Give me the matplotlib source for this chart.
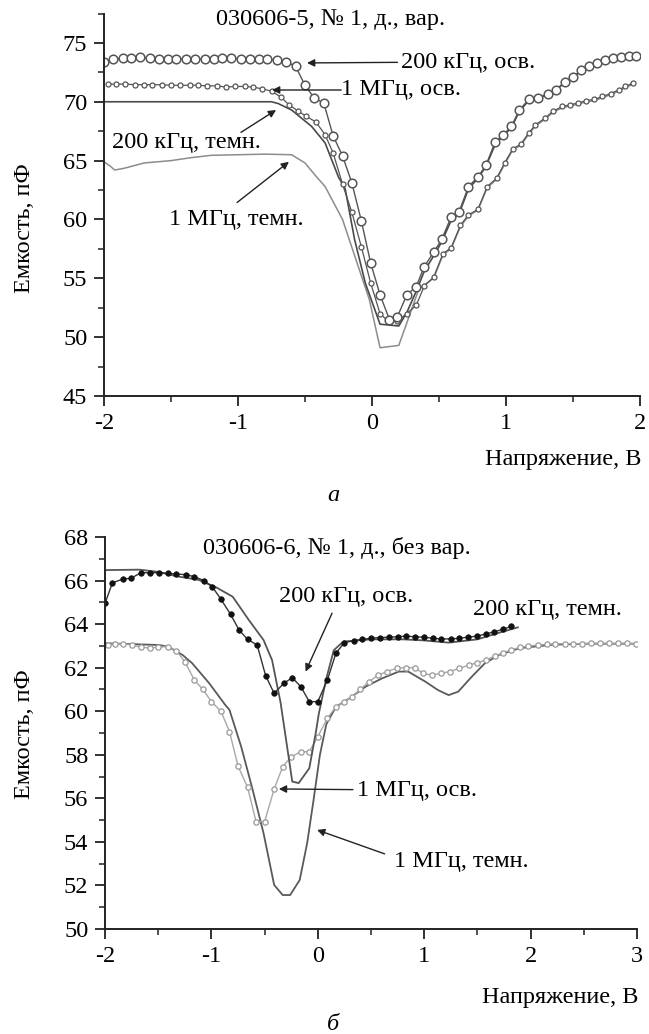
import matplotlib
matplotlib.use("Agg")
import matplotlib.pyplot as plt
from matplotlib.ticker import MultipleLocator

plt.rcParams['font.family'] = ['Liberation Serif', 'DejaVu Serif']
plt.rcParams['axes.unicode_minus'] = False

# ---------------- Panel (а): 030606-5 ----------------
a_osv200_x = [-2.00, -1.93, -1.86, -1.80, -1.73, -1.66, -1.59, -1.52, -1.46, -1.39,
              -1.32, -1.25, -1.18, -1.12, -1.05, -0.98, -0.91, -0.84, -0.78, -0.71,
              -0.64, -0.57, -0.50, -0.43, -0.36, -0.29, -0.22, -0.15, -0.08, -0.01,
              0.06, 0.13, 0.19, 0.26, 0.33, 0.39, 0.46, 0.52, 0.59, 0.65,
              0.72, 0.79, 0.85, 0.92, 0.98, 1.04, 1.10, 1.17, 1.24, 1.31,
              1.37, 1.44, 1.50, 1.56, 1.62, 1.68, 1.74, 1.80, 1.86, 1.92, 1.97]
a_osv200_y = [73.4, 73.6, 73.7, 73.75, 73.8, 73.7, 73.65, 73.65, 73.65, 73.65,
              73.65, 73.65, 73.6, 73.7, 73.7, 73.65, 73.6, 73.6, 73.6, 73.55,
              73.4, 73.0, 71.4, 70.3, 69.9, 67.1, 65.4, 63.1, 59.9, 56.3,
              53.6, 51.5, 51.75, 53.6, 54.3, 56.0, 57.2, 58.3, 60.2, 60.65,
              62.8, 63.6, 64.6, 66.6, 67.2, 67.9, 69.3, 70.2, 70.35, 70.65,
              71.0, 71.7, 72.1, 72.7, 73.0, 73.3, 73.55, 73.7, 73.8, 73.85, 73.85]

a_osv1M_x = [-1.97, -1.91, -1.84, -1.77, -1.70, -1.64, -1.57, -1.50, -1.43, -1.36,
             -1.30, -1.23, -1.16, -1.09, -1.02, -0.95, -0.89, -0.82, -0.75, -0.68,
             -0.62, -0.55, -0.49, -0.42, -0.35, -0.29, -0.22, -0.15, -0.08, -0.01,
             0.06, 0.13, 0.19, 0.26, 0.33, 0.39, 0.46, 0.53, 0.59, 0.66,
             0.72, 0.79, 0.86, 0.93, 0.99, 1.05, 1.11, 1.17, 1.22, 1.29,
             1.35, 1.42, 1.48, 1.54, 1.60, 1.66, 1.72, 1.78, 1.84, 1.89, 1.95]
a_osv1M_y = [71.5, 71.5, 71.5, 71.45, 71.45, 71.45, 71.45, 71.4, 71.4, 71.4,
             71.4, 71.35, 71.35, 71.25, 71.3, 71.3, 71.25, 71.1, 70.9, 70.4,
             69.75, 69.2, 68.75, 68.3, 67.2, 65.65, 63.0, 60.6, 57.7, 54.6,
             52.0, 51.25, 51.4, 52.0, 52.7, 54.35, 55.1, 57.1, 57.6, 59.5,
             60.4, 60.85, 62.8, 63.5, 64.8, 66.0, 66.4, 67.35, 68.05, 68.6,
             69.2, 69.6, 69.75, 69.9, 70.1, 70.2, 70.45, 70.7, 71.0, 71.3, 71.6]

a_dark200_x = [-2.00, -1.50, -1.00, -0.75, -0.70, -0.60, -0.45, -0.35, -0.25, -0.20,
               -0.13, -0.05, 0.06, 0.20, 0.26, 0.33, 0.39, 0.46, 0.52, 0.59,
               0.65, 0.72, 0.79, 0.85, 0.92, 0.98, 1.04, 1.10, 1.17, 1.24,
               1.31, 1.37, 1.44, 1.50, 1.56, 1.62, 1.68, 1.74, 1.80, 1.86, 1.92, 1.97]
a_dark200_y = [70.0, 70.0, 70.0, 70.0, 69.85, 69.3, 67.9, 66.5, 63.6, 62.6,
               58.3, 54.6, 51.1, 50.95, 52.1, 53.9, 55.6, 56.9, 58.1, 59.9,
               60.5, 62.6, 63.5, 64.5, 66.4, 67.1, 67.8, 69.2, 70.1, 70.3,
               70.6, 70.95, 71.65, 72.05, 72.65, 72.95, 73.25, 73.5, 73.65, 73.75, 73.8, 73.8]

a_dark1M_x = [-2.00, -1.95, -1.92, -1.85, -1.70, -1.50, -1.35, -1.20, -1.00, -0.80,
              -0.60, -0.50, -0.42, -0.35, -0.22, -0.12, -0.02, 0.06, 0.20, 0.25,
              0.35, 0.46, 0.53, 0.59, 0.66, 0.72, 0.79, 0.86, 0.93, 0.99,
              1.05, 1.11, 1.17, 1.22, 1.29, 1.35, 1.42, 1.48, 1.54, 1.60,
              1.66, 1.72, 1.78, 1.84, 1.89, 1.95]
a_dark1M_y = [64.9, 64.5, 64.2, 64.35, 64.8, 65.0, 65.25, 65.45, 65.5, 65.55,
              65.5, 64.8, 63.7, 62.8, 60.0, 56.6, 53.2, 49.1, 49.3, 50.9,
              54.1, 55.0, 57.0, 57.5, 59.4, 60.3, 60.8, 62.7, 63.4, 64.7,
              65.9, 66.3, 67.25, 67.95, 68.5, 69.1, 69.5, 69.65, 69.8, 70.0,
              70.1, 70.35, 70.6, 70.9, 71.2, 71.5]

# ---------------- Panel (б): 030606-6 ----------------
b_osv200_x = [-2.00, -1.93, -1.83, -1.76, -1.66, -1.58, -1.49, -1.41, -1.33, -1.24,
              -1.16, -1.07, -0.99, -0.91, -0.82, -0.74, -0.66, -0.57, -0.49, -0.41,
              -0.32, -0.24, -0.16, -0.08, 0.00, 0.09, 0.17, 0.25, 0.34, 0.42,
              0.50, 0.58, 0.67, 0.75, 0.83, 0.91, 1.00, 1.08, 1.16, 1.25,
              1.33, 1.41, 1.50, 1.58, 1.66, 1.74, 1.82]
b_osv200_y = [64.95, 65.9, 66.07, 66.1, 66.36, 66.36, 66.36, 66.33, 66.3, 66.27,
              66.18, 66.0, 65.7, 65.14, 64.45, 63.73, 63.3, 63.04, 61.63, 60.82,
              61.28, 61.54, 61.13, 60.44, 60.44, 61.43, 62.66, 63.15, 63.24, 63.3,
              63.35, 63.38, 63.4, 63.42, 63.45, 63.42, 63.4, 63.35, 63.32, 63.32,
              63.35, 63.4, 63.45, 63.55, 63.65, 63.76, 63.9]

b_dark200_x = [-2.00, -1.68, -1.50, -1.33, -1.12, -0.96, -0.80, -0.65, -0.51, -0.43,
               -0.35, -0.24, -0.18, -0.08, -0.02, 0.01, 0.08, 0.15, 0.24, 0.50,
               0.80, 1.00, 1.23, 1.50, 1.70, 1.88]
b_dark200_y = [66.48, 66.5, 66.4, 66.2, 66.03, 65.7, 65.26, 64.2, 63.27, 62.35,
               60.4, 56.77, 56.7, 57.38, 58.98, 59.9, 61.5, 62.8, 63.2, 63.3,
               63.3, 63.25, 63.15, 63.3, 63.6, 63.85]

b_osv1M_x = [-1.97, -1.91, -1.83, -1.75, -1.66, -1.58, -1.50, -1.41, -1.33, -1.25,
             -1.16, -1.08, -1.00, -0.91, -0.83, -0.75, -0.66, -0.58, -0.50, -0.41,
             -0.33, -0.25, -0.16, -0.08, 0.00, 0.09, 0.17, 0.25, 0.32, 0.40,
             0.48, 0.57, 0.65, 0.74, 0.83, 0.91, 0.99, 1.07, 1.16, 1.24,
             1.33, 1.42, 1.50, 1.58, 1.67, 1.74, 1.82, 1.90, 1.98, 2.07,
             2.15, 2.23, 2.32, 2.40, 2.48, 2.57, 2.65, 2.74, 2.82, 2.91, 2.99]
b_osv1M_y = [63.04, 63.1, 63.1, 63.04, 62.94, 62.9, 62.94, 62.97, 62.78, 62.28,
             61.43, 61.0, 60.44, 60.0, 59.06, 57.49, 56.5, 54.93, 54.93, 56.43,
             57.45, 57.91, 58.14, 58.14, 58.83, 59.68, 60.2, 60.44, 60.67, 61.0,
             61.36, 61.66, 61.82, 61.97, 62.0, 62.0, 61.74, 61.66, 61.74, 61.82,
             61.97, 62.12, 62.23, 62.35, 62.54, 62.69, 62.81, 62.94, 62.99, 63.04,
             63.07, 63.1, 63.1, 63.1, 63.1, 63.12, 63.12, 63.12, 63.12, 63.12, 63.1]

b_dark1M_x = [-2.00, -1.49, -1.40, -1.27, -1.18, -1.02, -0.87, -0.83, -0.72, -0.62,
              -0.51, -0.41, -0.33, -0.26, -0.17, -0.10, -0.04, 0.02, 0.08, 0.17,
              0.30, 0.45, 0.60, 0.76, 0.85, 1.01, 1.13, 1.23, 1.32, 1.45,
              1.57, 1.70, 1.90, 2.20, 2.50, 3.00]
b_dark1M_y = [63.12, 63.04, 62.95, 62.58, 62.2, 61.28, 60.29, 60.06, 58.37, 56.54,
              54.4, 52.02, 51.56, 51.56, 52.25, 53.94, 55.92, 58.0, 59.4, 60.2,
              60.6, 61.13, 61.5, 61.82, 61.82, 61.36, 60.97, 60.74, 60.9, 61.6,
              62.2, 62.58, 62.9, 63.05, 63.1, 63.1]

a_xticks = [-2, -1, 0, 1, 2]
a_yticks = [45, 50, 55, 60, 65, 70, 75]
b_xticks = [-2, -1, 0, 1, 2, 3]
b_yticks = [50, 52, 54, 56, 58, 60, 62, 64, 66, 68]

FS = 17.5
FA = 17.5
W, H = 649, 1034
fig = plt.figure(figsize=(W / 100, H / 100), dpi=100)


def fx(px):
    return px / W


def fy(py):
    return 1 - py / H


def style_axes(ax):
    for s in ('top', 'right'):
        ax.spines[s].set_visible(False)
    for s in ('left', 'bottom'):
        ax.spines[s].set_linewidth(1.4)
        ax.spines[s].set_color('#222222')
    ax.tick_params(which='major', direction='out', length=7, width=1.3,
                   color='#222222', labelsize=FS, pad=5)
    ax.tick_params(which='minor', direction='out', length=4, width=1.1,
                   color='#222222')


arrow = dict(arrowstyle='-|>', color='#222222', lw=1.0, mutation_scale=11,
             shrinkA=0, shrinkB=0)

# ---- top panel ----
ax1 = fig.add_axes([fx(104), fy(396), fx(640) - fx(104), fy(13.5) - fy(396)])
style_axes(ax1)
ax1.set_xlim(-2, 2)
ax1.set_ylim(45, 77.5)
ax1.set_xticks(a_xticks)
ax1.set_yticks(a_yticks)
ax1.xaxis.set_minor_locator(MultipleLocator(0.5))
ax1.yaxis.set_minor_locator(MultipleLocator(2.5))

ax1.plot(a_dark1M_x, a_dark1M_y, color='#8c8c8c', lw=1.1)
ax1.plot(a_dark200_x, a_dark200_y, color='#4a4a4a', lw=1.2)
ax1.plot(a_osv1M_x, a_osv1M_y, color='#555555', lw=0.9, marker='o', ms=3.6,
         mfc='white', mec='#555555', mew=0.9)
ax1.plot(a_osv200_x, a_osv200_y, color='#555555', lw=1.0, marker='o', ms=6.2,
         mfc='white', mec='#555555', mew=1.1)

ax1.text(-0.306, 76.95, '030606-5, № 1, д., вар.', fontsize=FA, ha='center', va='center')
ax1.annotate('', xy=(-0.485, 73.3), xytext=(0.19, 73.35), arrowprops=arrow)
ax1.text(0.216, 73.35, '200 кГц, осв.', fontsize=FA, ha='left', va='center')
ax1.annotate('', xy=(-0.746, 71.0), xytext=(-0.23, 71.0), arrowprops=arrow)
ax1.text(-0.23, 71.0, '1 МГц, осв.', fontsize=FA, ha='left', va='center')
ax1.annotate('', xy=(-0.716, 69.3), xytext=(-0.978, 67.4), arrowprops=arrow)
ax1.text(-1.94, 66.5, '200 кГц, темн.', fontsize=FA, ha='left', va='center')
ax1.annotate('', xy=(-0.62, 64.9), xytext=(-1.007, 61.44), arrowprops=arrow)
ax1.text(-1.515, 60.0, '1 МГц, темн.', fontsize=FA, ha='left', va='center')

# ---- bottom panel ----
ax2 = fig.add_axes([fx(105), fy(929), fx(637) - fx(105), fy(537) - fy(929)])
style_axes(ax2)
ax2.set_xlim(-2, 3)
ax2.set_ylim(50, 68)
ax2.set_xticks(b_xticks)
ax2.set_yticks(b_yticks)
ax2.xaxis.set_minor_locator(MultipleLocator(0.5))
ax2.yaxis.set_minor_locator(MultipleLocator(1))

ax2.plot(b_dark1M_x, b_dark1M_y, color='#5a5a5a', lw=1.3)
ax2.plot(b_osv1M_x, b_osv1M_y, color='#a8a8a8', lw=1.0, marker='o', ms=3.8,
         mfc='white', mec='#999999', mew=0.9)
ax2.plot(b_dark200_x, b_dark200_y, color='#555555', lw=1.3)
ax2.plot(b_osv200_x, b_osv200_y, color='#333333', lw=1.0, marker='o', ms=4.0,
         mfc='#111111', mec='#111111', mew=0.5)

ax2.text(0.178, 67.5, '030606-6, № 1, д., без вар.', fontsize=FA, ha='center', va='center')
ax2.annotate('', xy=(-0.115, 61.82), xytext=(0.134, 64.5), arrowprops=arrow)
ax2.text(-0.366, 65.25, '200 кГц, осв.', fontsize=FA, ha='left', va='center')
ax2.text(1.462, 64.65, '200 кГц, темн.', fontsize=FA, ha='left', va='center')
ax2.annotate('', xy=(-0.366, 56.43), xytext=(0.33, 56.4), arrowprops=arrow)
ax2.text(0.366, 56.38, '1 МГц, осв.', fontsize=FA, ha='left', va='center')
ax2.annotate('', xy=(-0.007, 54.55), xytext=(0.628, 53.45), arrowprops=arrow)
ax2.text(0.712, 53.08, '1 МГц, темн.', fontsize=FA, ha='left', va='center')

# ---- axis labels and panel letters ----
fig.text(fx(25), fy(228), 'Емкость, пФ', rotation=90, fontsize=FS, ha='center', va='center')
fig.text(fx(25), fy(734), 'Емкость, пФ', rotation=90, fontsize=FS, ha='center', va='center')
fig.text(fx(641), fy(460), 'Напряжение, В', fontsize=FS, ha='right', va='center')
fig.text(fx(638), fy(997), 'Напряжение, В', fontsize=FS, ha='right', va='center')
fig.text(fx(333), fy(495), 'а', fontsize=FS, style='italic', ha='center', va='center')
fig.text(fx(333), fy(1025), 'б', fontsize=FS, style='italic', ha='center', va='center')

fig.savefig('out.png', dpi=100, facecolor='white')
